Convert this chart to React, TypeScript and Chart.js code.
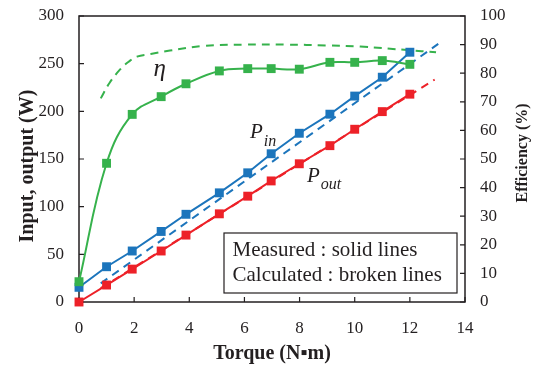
import React, { useEffect, useRef } from 'react';
import { Chart, registerables } from 'chart.js';

Chart.register(...registerables);

// Measured data (torque in N·m)
const torqueMeasured = [0, 1.0, 1.93, 2.98, 3.88, 5.09, 6.12, 6.97, 7.99, 9.1, 10.0, 11.0, 12.0];
const pinMeasured = [15.4, 37, 53.5, 74, 92, 114.5, 135.5, 155.5, 177, 197, 216, 235.8, 262];
const poutMeasured = [0, 17.8, 34.5, 53.5, 70.2, 92.5, 111, 127, 145, 164, 181.2, 199.7, 218];
const effMeasured = [7.1, 48.5, 65.6, 71.8, 76.3, 80.8, 81.6, 81.6, 81.4, 83.8, 83.8, 84.4, 83.1];

// Calculated data (broken lines)
const torquePinCalc = [0.79, 13.03];
const pinCalc = [19.6, 270.7];
const torquePoutCalc = [0.79, 12.9];
const poutCalc = [14.5, 233.3];
const torqueEffCalc = [0.79, 1.1, 1.5, 1.8, 2.1, 2.6, 3.3, 4.5, 6, 7.5, 9, 10.2, 11.9, 12.95];
const effCalc = [71.2, 76.5, 81.4, 84, 85.8, 86.7, 87.9, 89.5, 90, 90, 89.7, 89.3, 88.1, 87.3];

const xTicksMax = 14;
const powerMax = 300;
const effMax = 100;

const BLUE = '#1c75bc';
const RED = '#ed2128';
const GREEN = '#36b24c';
const INK = '#231f20';
const SERIF = "'Liberation Serif', 'Times New Roman', serif";

const pts = (xs: number[], ys: number[]) => xs.map((x, i) => ({ x, y: ys[i] }));

const overlayPlugin = {
  id: 'overlay',
  beforeDatasetsDraw(chart: any) {
    const { ctx, chartArea: a, scales } = chart;
    ctx.save();
    ctx.strokeStyle = INK;
    ctx.lineWidth = 1.5;
    ctx.strokeRect(a.left, a.top, a.right - a.left, a.bottom - a.top);
    const tl = 5;
    ctx.lineWidth = 1.2;
    ctx.beginPath();
    scales.x.ticks.forEach((t: any) => {
      const p = scales.x.getPixelForValue(t.value);
      ctx.moveTo(p, a.bottom);
      ctx.lineTo(p, a.bottom - tl);
    });
    scales.y.ticks.forEach((t: any) => {
      const p = scales.y.getPixelForValue(t.value);
      ctx.moveTo(a.left, p);
      ctx.lineTo(a.left + tl, p);
    });
    scales.y2.ticks.forEach((t: any) => {
      const p = scales.y2.getPixelForValue(t.value);
      ctx.moveTo(a.right, p);
      ctx.lineTo(a.right - tl, p);
    });
    ctx.stroke();
    ctx.restore();
  },
  afterDatasetsDraw(chart: any) {
    const { ctx, chartArea: a, scales } = chart;
    const { x, y, y2 } = scales;
    ctx.save();
    ctx.fillStyle = INK;
    ctx.textBaseline = 'alphabetic';
    ctx.textAlign = 'left';
    // eta label
    ctx.font = `italic 25px ${SERIF}`;
    ctx.fillText('η', x.getPixelForValue(2.7), y2.getPixelForValue(79));
    // P_in
    const pinX = x.getPixelForValue(6.2);
    const pinY = y.getPixelForValue(172);
    ctx.font = `italic 21px ${SERIF}`;
    ctx.fillText('P', pinX, pinY);
    const pw = ctx.measureText('P').width;
    ctx.font = `italic 16px ${SERIF}`;
    ctx.fillText('in', pinX + pw + 1, pinY + 8);
    // P_out
    const poX = x.getPixelForValue(8.27);
    const poY = y.getPixelForValue(126);
    ctx.font = `italic 21px ${SERIF}`;
    ctx.fillText('P', poX, poY);
    ctx.font = `italic 16px ${SERIF}`;
    ctx.fillText('out', poX + pw + 1, poY + 7);

    // Legend box
    const bx = a.left + 145;
    const by = a.top + 217;
    const bw = 233;
    const bh = 60;
    ctx.fillStyle = '#ffffff';
    ctx.fillRect(bx, by, bw, bh);
    ctx.strokeStyle = INK;
    ctx.lineWidth = 1.2;
    ctx.strokeRect(bx, by, bw, bh);
    ctx.fillStyle = INK;
    ctx.font = `21px ${SERIF}`;
    ctx.textBaseline = 'middle';
    ctx.fillText('Measured : solid lines', bx + 8.5, by + 17);
    ctx.fillText('Calculated : broken lines', bx + 8.5, by + 42);

    // Axis titles
    ctx.font = `bold 20px ${SERIF}`;
    ctx.textAlign = 'center';
    ctx.textBaseline = 'middle';
    ctx.fillText('Torque (N▪m)', (a.left + a.right) / 2, 354);
    ctx.save();
    ctx.translate(28, (a.top + a.bottom) / 2 + 7);
    ctx.rotate(-Math.PI / 2);
    ctx.fillText('Input, output (W)', 0, 0);
    ctx.restore();
    ctx.save();
    ctx.font = `bold 16px ${SERIF}`;
    ctx.translate(523, (a.top + a.bottom) / 2 - 6);
    ctx.rotate(-Math.PI / 2);
    ctx.fillText('Efficiency (%)', 0, 0);
    ctx.restore();
    ctx.restore();
  },
};

export default function App() {
  const ref = useRef<HTMLCanvasElement | null>(null);

  useEffect(() => {
    if (!ref.current) return;
    const markerCommon = {
      pointStyle: 'rect',
      pointRadius: 6.3,
      pointHoverRadius: 6.3,
      pointBorderWidth: 0,
      borderWidth: 2,
      clip: false,
      order: 1,
    };
    const dashCommon = {
      pointRadius: 0,
      borderWidth: 2,
      borderDash: [8, 6],
      clip: false,
      order: 2,
    };
    const chart = new Chart(ref.current, {
      type: 'line',
      data: {
        datasets: [
          {
            label: 'η measured',
            data: pts(torqueMeasured, effMeasured),
            yAxisID: 'y2',
            borderColor: GREEN,
            backgroundColor: GREEN,
            pointBackgroundColor: GREEN,
            tension: 0.4,
            ...markerCommon,
          } as any,
          {
            label: 'Pin measured',
            data: pts(torqueMeasured, pinMeasured),
            yAxisID: 'y',
            borderColor: BLUE,
            backgroundColor: BLUE,
            pointBackgroundColor: BLUE,
            tension: 0,
            ...markerCommon,
          },
          {
            label: 'Pout measured',
            data: pts(torqueMeasured, poutMeasured),
            yAxisID: 'y',
            borderColor: RED,
            backgroundColor: RED,
            pointBackgroundColor: RED,
            tension: 0,
            ...markerCommon,
          },
          {
            label: 'η calculated',
            data: pts(torqueEffCalc, effCalc),
            yAxisID: 'y2',
            borderColor: GREEN,
            tension: 0.4,
            ...dashCommon,
          },
          {
            label: 'Pin calculated',
            data: pts(torquePinCalc, pinCalc),
            yAxisID: 'y',
            borderColor: BLUE,
            ...dashCommon,
          },
          {
            label: 'Pout calculated',
            data: pts(torquePoutCalc, poutCalc),
            yAxisID: 'y',
            borderColor: RED,
            ...dashCommon,
          },
        ],
      },
      options: {
        responsive: false,
        animation: false,
        events: [],
        layout: { padding: { top: 16, left: 0, right: 0, bottom: 0 } },
        plugins: {
          legend: { display: false },
          tooltip: { enabled: false },
          title: { display: false },
        },
        scales: {
          x: {
            type: 'linear',
            min: 0,
            max: xTicksMax,
            grid: { display: false, drawTicks: true, tickLength: 16 },
            border: { display: false },
            ticks: {
              stepSize: 2,
              color: INK,
              padding: 0,
              font: { family: SERIF, size: 17 },
            },
            afterFit: (s: any) => {
              s.height = 63;
            },
          },
          y: {
            type: 'linear',
            position: 'left',
            min: 0,
            max: powerMax,
            grid: { display: false, drawTicks: true, tickLength: 15 },
            border: { display: false },
            ticks: {
              stepSize: 50,
              color: INK,
              padding: 0,
              font: { family: SERIF, size: 17 },
            },
            afterFit: (s: any) => {
              s.width = 79;
            },
          },
          y2: {
            type: 'linear',
            position: 'right',
            min: 0,
            max: effMax,
            grid: { display: false, drawTicks: true, tickLength: 15, drawOnChartArea: false },
            border: { display: false },
            ticks: {
              stepSize: 10,
              color: INK,
              padding: 0,
              font: { family: SERIF, size: 17 },
            },
            afterFit: (s: any) => {
              s.width = 71;
            },
          },
        },
      },
      plugins: [overlayPlugin],
    });
    return () => chart.destroy();
  }, []);

  return (
    <div style={{ position: 'absolute', left: 0, top: 0, width: 536, height: 365, background: '#fff' }}>
      <canvas ref={ref} width={536} height={365} style={{ display: 'block' }} />
    </div>
  );
}
